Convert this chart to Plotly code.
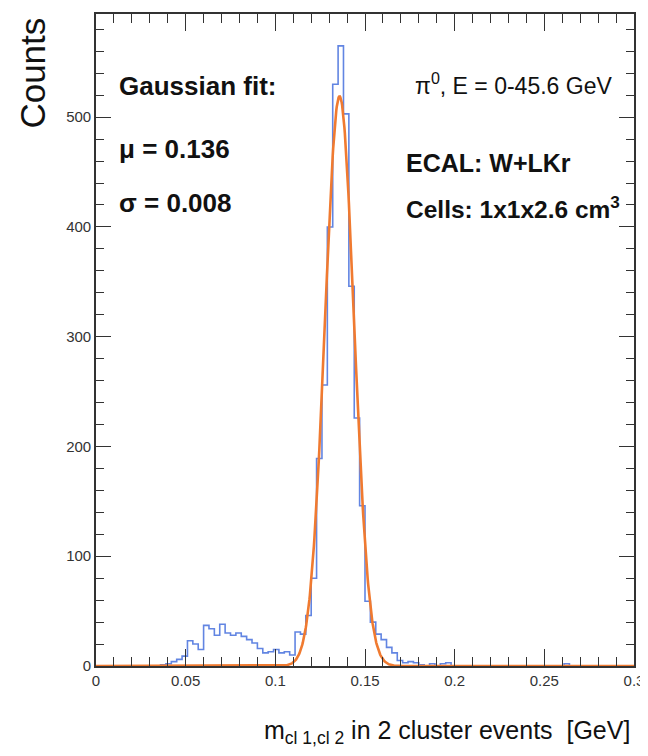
import numpy as np
import plotly.graph_objects as go

# ---- data ----
bin_width = 0.003
bin_start = 0.0
counts = [
    0, 0, 0, 0, 0, 0, 0, 0, 0, 0,      # 0.000-0.030
    0, 0, 1, 2, 4, 6, 9, 23, 20, 15,   # 0.030-0.060
    37, 34, 28, 38, 30, 28, 30, 27, 24, 21,   # 0.060-0.090
    16, 12, 13, 15, 12, 13, 10, 31, 29, 46,   # 0.090-0.120
    80, 189, 256, 400, 530, 565, 503, 346, 226, 146,  # 0.120-0.150
    59, 40, 29, 24, 17, 12, 5, 3, 4, 3,  # 0.150-0.180
    1, 0, 2, 0, 2, 3, 0, 0, 0, 0,      # 0.180-0.210
    0, 0, 0, 0, 0, 0, 0, 0, 0, 0,      # 0.210-0.240
    0, 0, 0, 0, 0, 0, 0, 2, 0, 0,      # 0.240-0.270
    0, 0, 0, 0, 0, 0, 0, 0, 0, 0,      # 0.270-0.300
]
fit_amplitude = 519.0
fit_mu = 0.1358
fit_sigma = 0.0081

x_tick_vals = [0, 0.05, 0.1, 0.15, 0.2, 0.25, 0.3]
x_tick_text = ["0", "0.05", "0.1", "0.15", "0.2", "0.25", "0.3"]
y_tick_vals = [0, 100, 200, 300, 400, 500]
y_tick_text = ["0", "100", "200", "300", "400", "500"]

# ---- build figure ----
edges = bin_start + bin_width * np.arange(len(counts) + 1)
step_x = list(edges)
step_y = list(counts) + [counts[-1]]

xf = np.linspace(0, 0.3, 1201)
yf = fit_amplitude * np.exp(-0.5 * ((xf - fit_mu) / fit_sigma) ** 2)

fig = go.Figure()
fig.add_trace(go.Scatter(x=step_x, y=step_y, mode="lines", line_shape="hv",
                         line=dict(color="#6285e2", width=1.6), hoverinfo="skip"))
fig.add_trace(go.Scatter(x=xf, y=yf, mode="lines",
                         line=dict(color="#f07a30", width=2.6), hoverinfo="skip"))

FONT = "Liberation Sans, Arial, sans-serif"
axis_common = dict(showgrid=False, zeroline=False, showline=True, linecolor="#333",
                   linewidth=1.6, ticks="inside", mirror="allticks", tickcolor="#333",
                   tickwidth=1.4, tickfont=dict(family=FONT, size=15, color="#333"))

fig.update_xaxes(range=[0, 0.3], tickvals=x_tick_vals, ticktext=x_tick_text, ticklen=17,
                 minor=dict(ticks="inside", dtick=0.01, ticklen=9, tickcolor="#333", tickwidth=1.2),
                 **axis_common)
fig.update_yaxes(range=[0, 594], tickvals=y_tick_vals, ticktext=y_tick_text, ticklen=15,
                 minor=dict(ticks="inside", dtick=20, ticklen=8, tickcolor="#333", tickwidth=1.2),
                 **axis_common)

ann = []
def txt(x, y, s, size, bold=False, xanchor="left", yanchor="middle", **kw):
    if bold:
        s = "<b>" + s + "</b>"
    ann.append(dict(x=x, y=y, xref="paper", yref="paper", text=s, showarrow=False,
                    xanchor=xanchor, yanchor=yanchor,
                    font=dict(family=FONT, size=size, color="#111"), **kw))

# page has an 8px body margin; plot area in page coords x 96..635, y 12..666
def px(xp):
    return (xp - 96) / (635 - 96)
def py(yp):
    return (666 - yp) / (666 - 12)

txt(px(117), py(84), "Gaussian fit:", 26, bold=True)
txt(px(117), py(147), "μ = 0.136", 26, bold=True)
txt(px(117), py(202), "σ = 0.008", 26, bold=True)
txt(px(615), py(82), "π<sup>0</sup>, E = 0-45.6 GeV", 23, xanchor="right")
txt(px(405), py(161), "ECAL: W+LKr", 25, bold=True)
txt(px(405), py(206), "Cells: 1x1x2.6 cm<sup>3</sup>", 24.5, bold=True)
txt(px(633), py(732), "m<sub>cl 1,cl 2</sub> in 2 cluster events  [GeV]", 25, xanchor="right")
ann.append(dict(x=px(32), y=py(14), xref="paper", yref="paper", text="Counts", showarrow=False,
                textangle=-90, xanchor="center", yanchor="top",
                font=dict(family=FONT, size=35, color="#111")))

fig.update_layout(width=640, height=740, margin=dict(l=88, r=13, t=4, b=82),
                  paper_bgcolor="white", plot_bgcolor="white", showlegend=False,
                  annotations=ann)

fig.write_html("out.html")
